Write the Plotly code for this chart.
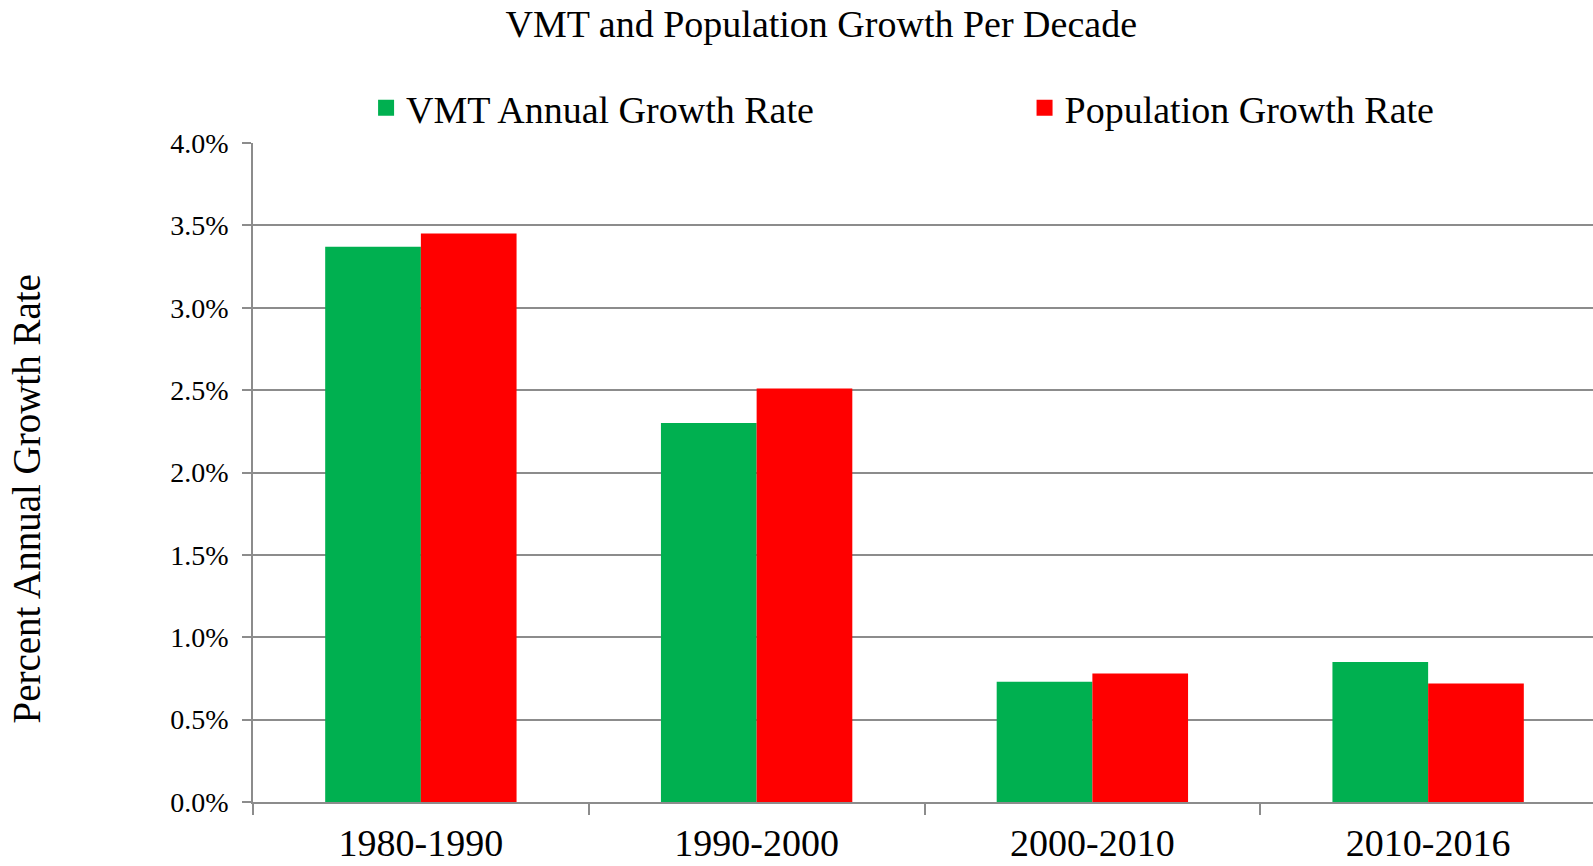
import plotly.graph_objects as go

# Datos (tasa anual, en fracción)
periodos = ["1980-1990", "1990-2000", "2000-2010", "2010-2016"]
vmt_crecimiento = [0.0337, 0.0230, 0.0073, 0.0085]
poblacion_crecimiento = [0.0345, 0.0251, 0.0078, 0.0072]
ticks_y = [0.0, 0.005, 0.01, 0.015, 0.02, 0.025, 0.03, 0.035, 0.04]

VERDE = "#00B050"
ROJO = "#FF0000"
GRIS = "#8C8C8C"
FUENTE = "Liberation Serif"

fig = go.Figure()

fig.add_trace(go.Bar(x=periodos, y=vmt_crecimiento, name="VMT Annual Growth Rate",
                     marker=dict(color=VERDE, line=dict(width=0)), showlegend=False))
fig.add_trace(go.Bar(x=periodos, y=poblacion_crecimiento, name="Population Growth Rate",
                     marker=dict(color=ROJO, line=dict(width=0)), showlegend=False))

# Entradas de leyenda con cuadrados más grandes, una leyenda por serie
fig.add_trace(go.Scatter(x=[None], y=[None], mode="markers", name="VMT Annual Growth Rate",
                         marker=dict(symbol="square", size=16, color=VERDE), legend="legend"))
fig.add_trace(go.Scatter(x=[None], y=[None], mode="markers", name="Population Growth Rate",
                         marker=dict(symbol="square", size=16, color=ROJO), legend="legend2"))

leyenda_base = dict(orientation="h", xanchor="left", xref="paper", y=1.053,
                    yanchor="middle", font=dict(size=38, family=FUENTE),
                    itemsizing="trace", bgcolor="rgba(0,0,0,0)")

# El área de trazado sigue más allá del borde derecho de la ventana (como en el original)
fig.update_layout(
    width=1596, height=866,
    margin=dict(l=253, r=0, t=143, b=64, autoexpand=False),
    paper_bgcolor="white",
    plot_bgcolor="white",
    font=dict(family=FUENTE, color="black"),
    barmode="group",
    bargap=0.43,
    bargroupgap=0,
    title=dict(text="VMT and Population Growth Per Decade", x=0.5146, xanchor="center",
               y=0.9725, yanchor="middle", font=dict(size=38, family=FUENTE)),
    legend=dict(leyenda_base, x=0.0842),
    legend2=dict(leyenda_base, x=0.5745),
    xaxis=dict(tickson="boundaries", ticks="outside", ticklen=11, tickcolor=GRIS,
               tickwidth=1.5, showline=True, linecolor=GRIS, linewidth=1.5,
               showgrid=False, ticklabelstandoff=7, tickfont=dict(size=38, family=FUENTE)),
    yaxis=dict(range=[0, 0.04], tickvals=ticks_y, tickformat=".1%", ticks="outside",
               ticklen=9, tickcolor=GRIS, tickwidth=1.5, showline=True,
               linecolor=GRIS, linewidth=1.5, showgrid=True, gridcolor=GRIS,
               gridwidth=1.5, zeroline=False, ticklabelstandoff=8,
               tickfont=dict(size=28, family=FUENTE)),
    annotations=[dict(text="Percent Annual Growth Rate", textangle=-90,
                      xref="paper", yref="paper", x=-0.169, y=0.459,
                      xanchor="center", yanchor="middle", showarrow=False,
                      font=dict(size=39, family=FUENTE))],
)

# Quitar el margen por defecto del body para que la figura ocupe toda la ventana
fig.write_html("out.html", config={"displayModeBar": False},
               post_script="document.body.style.margin='0';document.body.style.overflow='hidden';")
